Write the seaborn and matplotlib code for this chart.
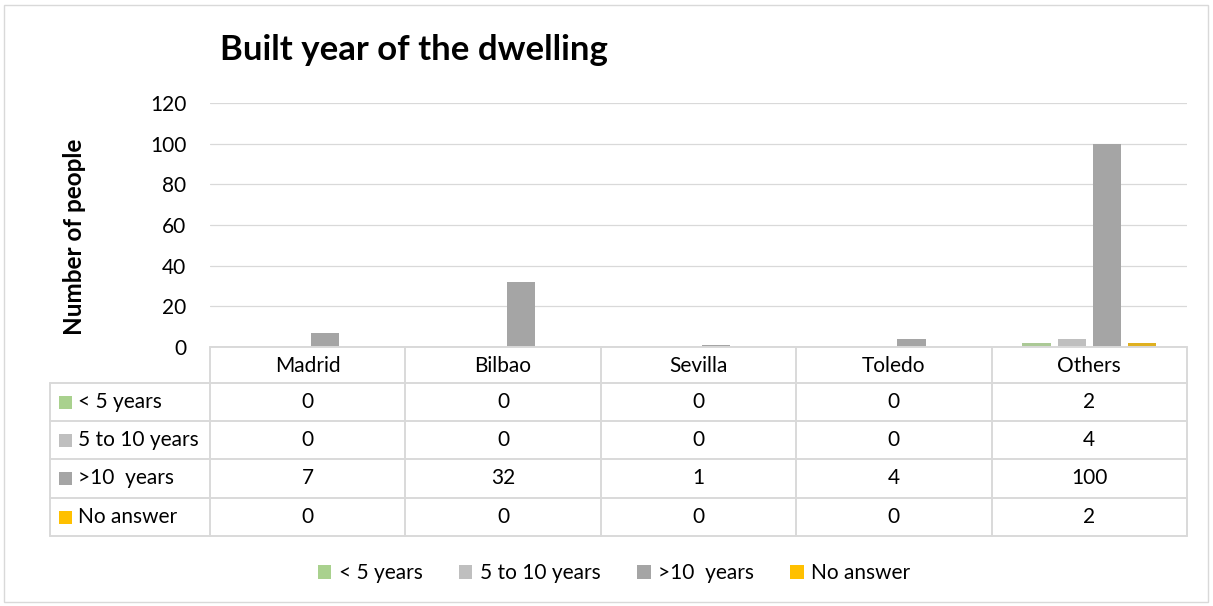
import numpy as np
import pandas as pd
import matplotlib.pyplot as plt
import matplotlib.transforms as mtransforms
from matplotlib.lines import Line2D
from matplotlib.patches import Rectangle, Patch
import seaborn as sns

# data
cities = ["Madrid", "Bilbao", "Sevilla", "Toledo", "Others"]
groups = ["< 5 years", "5 to 10 years", ">10  years", "No answer"]
under_5 = [0, 0, 0, 0, 2]
from_5_to_10 = [0, 0, 0, 0, 4]
over_10 = [7, 32, 1, 4, 100]
no_answer = [0, 0, 0, 0, 2]
colors = ["#A9D18E", "#BFBFBF", "#A5A5A5", "#FFC000"]

series = [under_5, from_5_to_10, over_10, no_answer]
df = pd.DataFrame([(c, g, v) for g, vals in zip(groups, series) for c, v in zip(cities, vals)],
                  columns=["city", "group", "count"])

W, H = 1213, 606
sns.set_theme(style="white")
plt.rcParams["font.family"] = ["Lato", "DejaVu Sans"]
plt.rcParams["text.color"] = "black"

FS = 15  # table / tick text size

fig = plt.figure(figsize=(W / 100, H / 100), dpi=100, facecolor="white")
ax = fig.add_axes([210 / W, 1 - 347 / H, (1187 - 210) / W, (347 - 103) / H])

sns.barplot(data=df, x="city", y="count", hue="group", order=cities, hue_order=groups,
            palette=colors, width=0.72, gap=0.2, linewidth=0, legend=False, ax=ax, zorder=3)

ax.set_xlim(-0.5, len(cities) - 0.5)
ax.set_ylim(0, 120)
ax.set_yticks(np.arange(0, 121, 20))
ax.set_xticks([])
ax.set_xlabel("")
ax.set_ylabel("")
ax.tick_params(axis="y", length=0, pad=17, labelsize=FS, labelcolor="black")
ax.grid(axis="y", color="#D9D9D9", linewidth=0.9, zorder=0)
for sp in ax.spines.values():
    sp.set_visible(False)


def fy(y):
    return 1 - y / H


line_kw = dict(color="#D9D9D9", linewidth=1.4)
# table: x in data coords, y in figure coords
tr = mtransforms.blended_transform_factory(ax.transData, fig.transFigure)
x0, x1 = -0.5, len(cities) - 0.5
row_edges = [383, 421, 459, 498, 536]
fig.add_artist(Line2D([x0, x1], [fy(347), fy(347)], transform=tr, **line_kw))
for i in range(len(cities) + 1):
    fig.add_artist(Line2D([x0 + i, x0 + i], [fy(347), fy(536)], transform=tr, **line_kw))
for y in row_edges:
    fig.add_artist(Line2D([50 / W, 1187 / W], [fy(y), fy(y)], transform=fig.transFigure, **line_kw))
fig.add_artist(Line2D([50 / W, 50 / W], [fy(383), fy(536)], transform=fig.transFigure, **line_kw))

# header row
for i, c in enumerate(cities):
    ax.text(i, fy(366), c, transform=tr, ha="center", va="center", fontsize=FS, clip_on=False)

# data rows
for r, (g, vals, col) in enumerate(zip(groups, series, colors)):
    yc = (row_edges[r] + row_edges[r + 1]) / 2
    fig.add_artist(Rectangle((59 / W, fy(yc + 6.5)), 13 / W, 13 / H, transform=fig.transFigure,
                             facecolor=col, edgecolor="none"))
    fig.text(78 / W, fy(yc), g, ha="left", va="center", fontsize=FS)
    for i, v in enumerate(vals):
        ax.text(i, fy(yc), str(v), transform=tr, ha="center", va="center", fontsize=FS,
                clip_on=False)

# titles
fig.text(220 / W, fy(60), "Built year of the dwelling", ha="left", va="baseline",
         fontsize=25, fontweight="bold")
fig.text(75 / W, fy(237), "Number of people", rotation=90, ha="center", va="center",
         fontsize=17.5, fontweight="bold")

# legend
handles = [Patch(facecolor=c, edgecolor="none") for c in colors]
fig.legend(handles, groups, loc="center", bbox_to_anchor=(614 / W, fy(573)), ncol=4,
           frameon=False, fontsize=FS, handlelength=0.65, handleheight=0.65,
           handletextpad=0.35, columnspacing=1.75)

# outer border
fig.add_artist(Rectangle((4 / W, 4 / H), (W - 9) / W, (H - 9) / H, transform=fig.transFigure,
                         facecolor="none", edgecolor="#D9D9D9", linewidth=1))

fig.savefig("out.png", dpi=100, facecolor="white")
